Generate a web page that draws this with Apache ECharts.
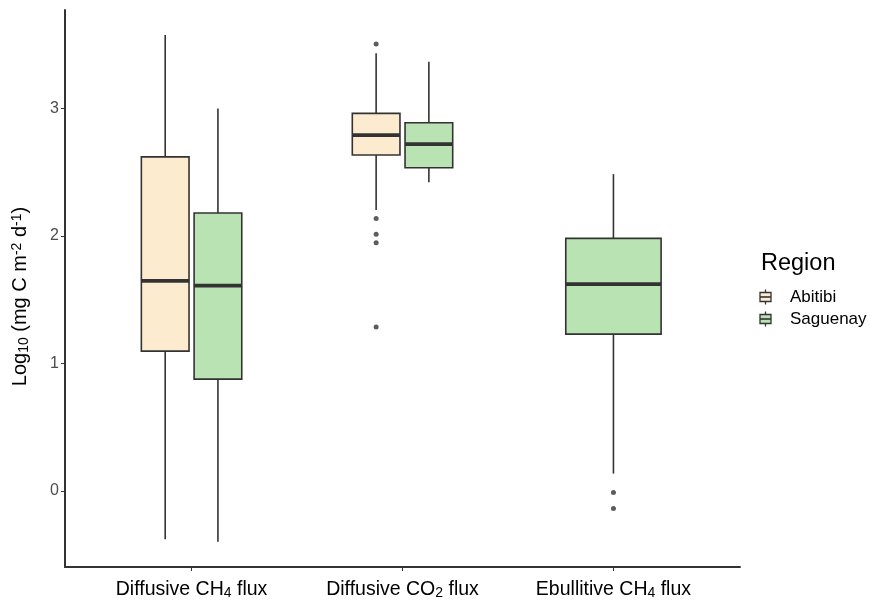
<!DOCTYPE html>
<html>
<head>
<meta charset="utf-8">
<script src="https://cdn.jsdelivr.net/npm/echarts@6/dist/echarts.min.js"></script>
<style>html,body{margin:0;padding:0;background:#fff}#c{width:870px;height:602px}</style>
</head>
<body>
<div id="c"></div>
<script>
// ---- data ----
var categories = ['Diffusive CH4 flux', 'Diffusive CO2 flux', 'Ebullitive CH4 flux'];
var xLabels = ['Diffusive CH{sub|4} flux', 'Diffusive CO{sub|2} flux', 'Ebullitive CH{sub|4} flux'];
var regions = ['Abitibi', 'Saguenay'];
// [lower whisker, Q1, median, Q3, upper whisker]; null = no data
var abitibiBox = [
  [-0.379, 1.096, 1.647, 2.619, 3.574],
  [2.202, 2.633, 2.790, 2.960, 3.431],
  null
];
var saguenayBox = [
  [-0.398, 0.877, 1.610, 2.179, 2.997],
  [2.419, 2.533, 2.719, 2.886, 3.365],
  [0.136, 1.229, 1.621, 1.980, 2.484]
];
var abitibiOutliers = [[], [3.504, 2.136, 2.013, 1.945, 1.286], []];
var saguenayOutliers = [[], [], [-0.013, -0.138]];
var yTicks = [0, 1, 2, 3];
var xTicks = [1, 2, 3];

// ---- layout helpers ----
var dodge = 0.125, boxW = 0.226, singleW = 0.452;
var boxes = [abitibiBox, saguenayBox];
var outs = [abitibiOutliers, saguenayOutliers];
var colors = ['#FDEBD0', '#BAE3B3'];
var FONT = 'Liberation Sans, Arial, sans-serif';

function boxPlacement(g, c) {
  var present = boxes.filter(function (b) { return b[c] != null; }).length;
  if (present === 1) return { x: c + 1, w: singleW };
  return { x: c + 1 + (g === 0 ? -dodge : dodge), w: boxW };
}

var series = [];
regions.forEach(function (name, g) {
  var data = [];
  var outData = [];
  boxes[g].forEach(function (b, c) {
    if (!b) return;
    var p = boxPlacement(g, c);
    data.push([p.x, b[0], b[1], b[2], b[3], b[4], p.w]);
    outs[g][c].forEach(function (v) { outData.push([p.x, v]); });
  });
  series.push({
    name: name,
    type: 'custom',
    color: colors[g],
    itemStyle: { color: colors[g] },
    encode: { x: 0, y: [1, 2, 3, 4, 5] },
    data: data,
    renderItem: function (params, api) {
      var x = api.value(0);
      var w = api.size([api.value(6), 0])[0];
      var pMin = api.coord([x, api.value(1)]);
      var pQ1 = api.coord([x, api.value(2)]);
      var pMed = api.coord([x, api.value(3)]);
      var pQ3 = api.coord([x, api.value(4)]);
      var pMax = api.coord([x, api.value(5)]);
      var lineStyle = { stroke: '#333333', lineWidth: 1.6 };
      return {
        type: 'group',
        children: [
          { type: 'line', shape: { x1: pMax[0], y1: pMax[1], x2: pQ3[0], y2: pQ3[1] }, style: lineStyle },
          { type: 'line', shape: { x1: pQ1[0], y1: pQ1[1], x2: pMin[0], y2: pMin[1] }, style: lineStyle },
          { type: 'rect', shape: { x: pQ3[0] - w / 2, y: pQ3[1], width: w, height: pQ1[1] - pQ3[1] },
            style: { fill: colors[g], stroke: '#333333', lineWidth: 1.6 } },
          { type: 'line', shape: { x1: pMed[0] - w / 2, y1: pMed[1], x2: pMed[0] + w / 2, y2: pMed[1] },
            style: { stroke: '#333333', lineWidth: 3.8 } }
        ]
      };
    },
    z: 2
  });
  series.push({
    name: name + ' outliers',
    type: 'scatter',
    data: outData,
    symbol: 'circle',
    symbolSize: 5,
    itemStyle: { color: '#333333' },
    silent: true,
    z: 3
  });
});

// ---- legend (drawn as graphic elements) ----
var legendX = 760, legendY0 = 297, legendStep = 22;
var graphics = [{
  type: 'text', left: 761, top: 252,
  style: { text: 'Region', fontSize: 23.5, fill: '#000', fontFamily: FONT }
}];
regions.forEach(function (r, i) {
  var cy = legendY0 + legendStep * i;
  var cx = legendX + 5.5;
  graphics.push({ type: 'line', shape: { x1: cx, y1: cy - 7.5, x2: cx, y2: cy + 7.5 },
    style: { stroke: '#333333', lineWidth: 1.3 } });
  graphics.push({ type: 'rect', shape: { x: legendX, y: cy - 4.5, width: 11, height: 9 },
    style: { fill: colors[i], stroke: '#333333', lineWidth: 1.3 } });
  graphics.push({ type: 'line', shape: { x1: legendX, y1: cy, x2: legendX + 11, y2: cy },
    style: { stroke: '#333333', lineWidth: 1.6 } });
  graphics.push({ type: 'text', x: 790, y: cy,
    style: { text: r, fontSize: 17, fill: '#000', fontFamily: FONT, textVerticalAlign: 'middle', verticalAlign: 'middle' } });
});

var richSub = {
  sub: { fontSize: 14, verticalAlign: 'bottom', padding: [7, 0, 0, 0], fontFamily: FONT, color: '#000' },
  sup: { fontSize: 14, verticalAlign: 'top', padding: [0, 0, 7, 0], fontFamily: FONT, color: '#000' }
};

var chart = echarts.init(document.getElementById('c'), null, { renderer: 'canvas' });
chart.setOption({
  animation: false,
  backgroundColor: '#ffffff',
  textStyle: { fontFamily: FONT },
  grid: { left: 65, right: 130, top: 10, bottom: 35, containLabel: false },
  graphic: graphics,
  xAxis: {
    type: 'value',
    min: 0.4, max: 3.6,
    splitLine: { show: false },
    axisLine: { show: true, onZero: false, lineStyle: { color: '#333333', width: 2 } },
    axisTick: { show: true, customValues: xTicks, length: 4, lineStyle: { color: '#333333' } },
    axisLabel: {
      customValues: xTicks,
      margin: 12,
      fontSize: 19.5, color: '#000',
      formatter: function (v) { return xLabels[Math.round(v) - 1] || ''; },
      rich: richSub
    }
  },
  yAxis: {
    type: 'value',
    min: -0.596, max: 3.770,
    splitLine: { show: false },
    axisLine: { show: true, onZero: false, lineStyle: { color: '#333333', width: 2 } },
    axisTick: { show: true, customValues: yTicks, length: 4, lineStyle: { color: '#333333' } },
    axisLabel: { customValues: yTicks, fontSize: 16, color: '#4d4d4d', margin: 6 },
    name: 'Log{sub|10} (mg C m{sup|-2} d{sup|-1})',
    nameLocation: 'middle',
    nameRotate: 90,
    nameGap: 34,
    nameTextStyle: { fontSize: 20, color: '#000', rich: richSub, padding: [0, 16, 0, 0] }
  },
  series: series
});
</script>
</body>
</html>
